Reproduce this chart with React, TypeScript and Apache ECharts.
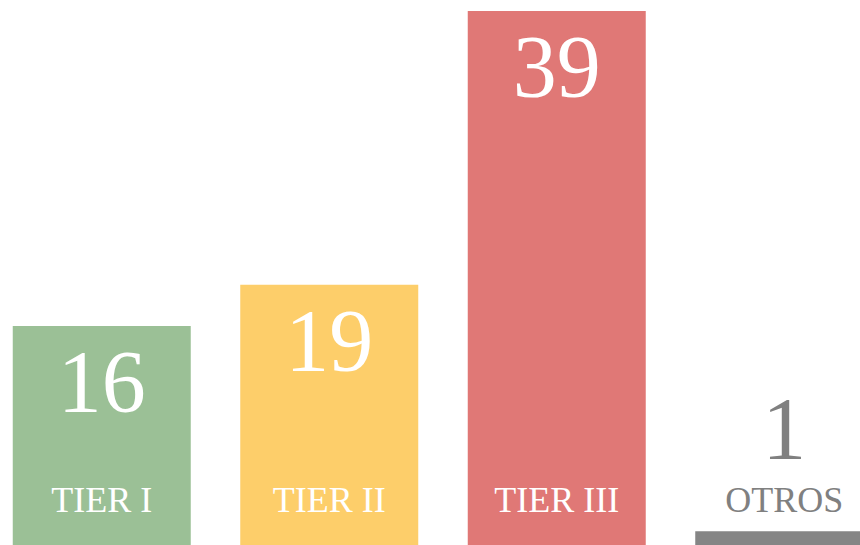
import React, { useEffect, useRef } from "react";
import * as echarts from "echarts";

const categories = ["TIER I", "TIER II", "TIER III", "OTROS"];
const values = [16, 19, 39, 1];
const barColors = ["#9bc096", "#fdce6a", "#e07876", "#858585"];
const labelColors = ["#ffffff", "#ffffff", "#ffffff", "#808080"];

const FONT = "'Liberation Serif', 'Times New Roman', serif";

export default function App() {
  const ref = useRef<HTMLDivElement>(null);
  useEffect(() => {
    if (!ref.current) return;
    const chart = echarts.init(ref.current, null, { renderer: "svg" });
    const data = values.map((v, i) => {
      const outside = i === categories.length - 1;
      return {
        value: v,
        itemStyle: { color: barColors[i] },
        label: outside
          ? { position: "top", distance: 59, color: labelColors[i] }
          : { position: "insideTop", distance: 12, color: labelColors[i] },
      };
    });
    chart.setOption({
      animation: false,
      grid: { left: 0, right: 0, top: 0, bottom: 0, containLabel: false },
      xAxis: {
        type: "category",
        data: categories,
        z: 10,
        axisLine: { show: false },
        axisTick: { show: false },
        splitLine: { show: false },
        axisLabel: {
          inside: true,
          margin: 27,
          fontSize: 36,
          fontFamily: FONT,
          color: (_v: any, idx: number) => labelColors[idx],
        },
      },
      yAxis: {
        type: "value",
        min: 0,
        max: 39.8,
        show: false,
        splitLine: { show: false },
      },
      series: [
        {
          type: "bar",
          data,
          barWidth: 178,
          label: {
            show: true,
            fontSize: 88,
            fontFamily: FONT,
            fontWeight: "normal",
          },
        },
      ],
    });
    return () => chart.dispose();
  }, []);
  return (
    <div style={{ position: "fixed", left: 0, top: 0, width: 860, height: 545, overflow: "hidden", background: "#ffffff" }}>
      <div
        ref={ref}
        style={{ position: "absolute", left: -12, top: 0, width: 910, height: 545 }}
      />
    </div>
  );
}
